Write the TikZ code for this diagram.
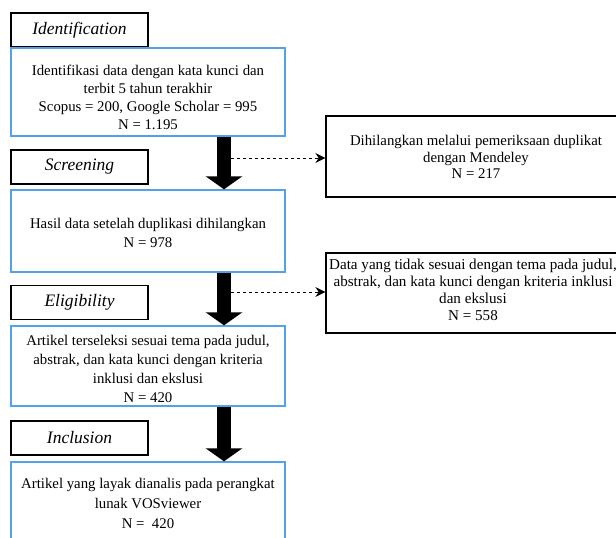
\documentclass[tikz,border=0pt]{standalone}
\usepackage{fontspec}
\setmainfont{Liberation Serif}
\usetikzlibrary{arrows.meta}
\definecolor{boxblue}{RGB}{84,160,235}
\tikzset{
  x=1pt, y=-1pt,
  txt/.style={font=\fontsize{14.8}{#1}\selectfont, align=center, inner sep=0pt},
  txt/.default=18,
  bluebox/.style={draw=boxblue, line width=1.3pt, minimum width=274pt, inner sep=0pt},
  labelbox/.style={draw=black, line width=1.2pt, minimum width=137pt, minimum height=34pt, inner sep=0pt, font=\fontsize{17.5}{20}\selectfont\itshape},
  sidebox/.style={draw=black, line width=1.2pt, minimum width=300pt, inner sep=0pt},
  bigarrow/.style={line width=14pt, -{Triangle[width=36pt,length=13pt]}},
  dasharrow/.style={dash pattern=on 3pt off 3pt, line width=1pt, -{Stealth[length=10pt,width=10pt]}}
}
\begin{document}
\begin{tikzpicture}
\useasboundingbox (0,0) rectangle (616,538);
\clip (0,0) rectangle (616,538);
\fill[white] (0,0) rectangle (616,538);

\node[labelbox] (l1) at (79.5,30) {Identification};
\node[labelbox] (l2) at (79.5,167) {Screening};
\node[labelbox] (l3) at (79.5,302.5) {Eligibility};
\node[labelbox] (l4) at (79.5,438) {Inclusion};

\node[bluebox, minimum height=88pt] (b1) at (148,92) {};
\node[bluebox, minimum height=82pt] (b2) at (148,231) {};
\node[bluebox, minimum height=80pt] (b3) at (148,366) {};
\node[bluebox, minimum height=90pt] (b4) at (148,507) {};
\node[sidebox, minimum height=81pt] (r1) at (476,156.5) {};
\node[sidebox, minimum height=80pt] (r2) at (476,293) {};

\node[txt=18] (t1) at (148,97.5) {Identifikasi data dengan kata kunci dan\\ terbit 5 tahun terakhir\\ Scopus = 200, Google Scholar = 995\\ N = 1.195};
\node[txt=19] (t2) at (148,233) {Hasil data setelah duplikasi dihilangkan\\ N = 978};
\node[txt=19] (t3) at (148,368.5) {Artikel terseleksi sesuai tema pada judul,\\ abstrak, dan kata kunci dengan kriteria\\ inklusi dan ekslusi\\ N = 420};
\node[txt=20] (t4) at (148,503) {Artikel yang layak dianalis pada perangkat\\ lunak VOSviewer\\ N =\ \ 420};
\node[txt=16.7] (tr1) at (476,157) {Dihilangkan melalui pemeriksaan duplikat\\ dengan Mendeley\\ N = 217};
\node[txt=16.7, font=\fontsize{15.1}{16.8}\selectfont] (tr2) at (473,290) {Data yang tidak sesuai dengan tema pada judul,\\ abstrak, dan kata kunci dengan kriteria inklusi\\ dan ekslusi\\ N = 558};

\draw[bigarrow] (b1.south -| 224,0) -- (b2.north -| 224,0);
\draw[bigarrow] (b2.south -| 224,0) -- (b3.north -| 224,0);
\draw[bigarrow] (b3.south -| 224,0) -- (b4.north -| 224,0);

\coordinate (d1) at (231,158);
\coordinate (d2) at (231,292);
\draw[dasharrow] (d1) -- (d1 -| r1.west);
\draw[dasharrow] (d2) -- (d2 -| r2.west);
\end{tikzpicture}
\end{document}
